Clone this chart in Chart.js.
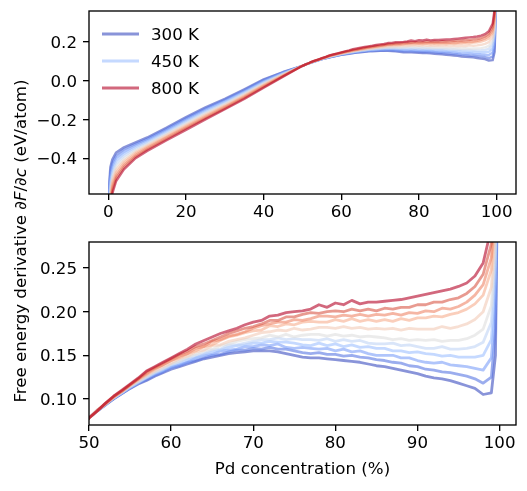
<!DOCTYPE html>
<html><head><meta charset="utf-8">
<script src="https://cdn.jsdelivr.net/npm/chart.js@4.4.0/dist/chart.umd.min.js"></script>
<style>
html,body{margin:0;padding:0;background:#fff;}
body{width:527px;height:491px;position:relative;overflow:hidden;font-family:'DejaVu Sans',sans-serif;}
#c1{position:absolute;left:0;top:0;}
#c2{position:absolute;left:0;top:230px;}
#ylab{position:absolute;left:-179px;top:231px;width:400px;height:20px;line-height:20px;text-align:center;font-size:16.67px;transform:rotate(-90deg);transform-origin:50% 50%;white-space:nowrap;color:#000;}
</style></head><body>
<canvas id="c1" width="527" height="230"></canvas>
<canvas id="c2" width="527" height="261"></canvas>
<div id="ylab">Free energy derivative <i>∂F</i>/<i>∂c</i> (eV/atom)</div>
<script>
// ---------------- data ----------------
const concentration = [0, 0.25, 0.5, 1, 2, 4, 7, 10, 15, 20, 25, 30, 35, 40, 45,
  50, 51, 52, 53, 54, 55, 56, 57, 58, 59,
  60, 61, 62, 63, 64, 65, 66, 67, 68, 69,
  70, 71, 72, 73, 74, 75, 76, 77, 78, 79,
  80, 81, 82, 83, 84, 85, 86, 87, 88, 89,
  90, 91, 92, 93, 94, 95, 96, 97, 98, 99,
  99.5, 100];

const temperatures = [300, 350, 400, 450, 500, 550, 600, 650, 700, 750, 800];
const legendTemperatures = [300, 450, 800];

const dFdc_300K = [-1.0, -0.52, -0.445, -0.405, -0.368, -0.342, -0.316, -0.291, -0.240, -0.186, -0.136, -0.092, -0.043, 0.008, 0.046,
  0.078, 0.086, 0.093, 0.100, 0.106, 0.112, 0.117, 0.121, 0.126, 0.130,
  0.134, 0.137, 0.140, 0.143, 0.146, 0.148, 0.150, 0.152, 0.153, 0.154,
  0.155, 0.155, 0.155, 0.154, 0.152, 0.150, 0.148, 0.147, 0.147, 0.146,
  0.145, 0.144, 0.143, 0.142, 0.140, 0.138, 0.137, 0.135, 0.133, 0.131,
  0.129, 0.126, 0.124, 0.123, 0.121, 0.118, 0.115, 0.112, 0.105, 0.107,
  0.15, 0.55];
const dFdc_350K = [-1.0, -0.548, -0.470, -0.423, -0.383, -0.353, -0.324, -0.298, -0.247, -0.193, -0.142, -0.097, -0.048, 0.004, 0.044,
  0.078, 0.086, 0.093, 0.100, 0.106, 0.112, 0.118, 0.122, 0.127, 0.131,
  0.136, 0.138, 0.142, 0.144, 0.147, 0.150, 0.151, 0.154, 0.156, 0.156,
  0.158, 0.157, 0.159, 0.157, 0.157, 0.155, 0.153, 0.152, 0.153, 0.151,
  0.151, 0.149, 0.150, 0.148, 0.147, 0.145, 0.144, 0.142, 0.141, 0.138,
  0.137, 0.134, 0.133, 0.131, 0.130, 0.128, 0.126, 0.123, 0.118, 0.125,
  0.18, 0.56];
const dFdc_400K = [-1.0, -0.576, -0.494, -0.440, -0.397, -0.365, -0.332, -0.305, -0.253, -0.199, -0.148, -0.103, -0.053, -0.001, 0.041,
  0.078, 0.087, 0.093, 0.101, 0.107, 0.113, 0.118, 0.124, 0.128, 0.132,
  0.136, 0.139, 0.142, 0.147, 0.150, 0.151, 0.155, 0.156, 0.157, 0.160,
  0.160, 0.162, 0.161, 0.163, 0.159, 0.158, 0.159, 0.158, 0.157, 0.158,
  0.155, 0.157, 0.154, 0.155, 0.152, 0.150, 0.150, 0.150, 0.147, 0.147,
  0.144, 0.142, 0.141, 0.142, 0.139, 0.138, 0.137, 0.135, 0.133, 0.147,
  0.21, 0.57];
const dFdc_450K = [-1.0, -0.604, -0.519, -0.458, -0.412, -0.376, -0.341, -0.312, -0.260, -0.206, -0.155, -0.108, -0.058, -0.005, 0.039,
  0.078, 0.086, 0.094, 0.101, 0.107, 0.113, 0.119, 0.124, 0.129, 0.133,
  0.138, 0.141, 0.145, 0.147, 0.151, 0.154, 0.156, 0.159, 0.161, 0.162,
  0.164, 0.164, 0.166, 0.165, 0.165, 0.164, 0.162, 0.161, 0.164, 0.161,
  0.163, 0.160, 0.162, 0.159, 0.160, 0.158, 0.158, 0.155, 0.155, 0.153,
  0.154, 0.152, 0.151, 0.149, 0.150, 0.148, 0.148, 0.148, 0.150, 0.168,
  0.24, 0.58];
const dFdc_500K = [-1.0, -0.632, -0.543, -0.475, -0.427, -0.387, -0.349, -0.319, -0.266, -0.212, -0.161, -0.114, -0.063, -0.009, 0.036,
  0.078, 0.086, 0.094, 0.101, 0.107, 0.114, 0.119, 0.125, 0.130, 0.134,
  0.139, 0.143, 0.146, 0.150, 0.152, 0.156, 0.157, 0.162, 0.162, 0.164,
  0.166, 0.168, 0.168, 0.170, 0.168, 0.169, 0.168, 0.168, 0.167, 0.169,
  0.166, 0.168, 0.166, 0.167, 0.164, 0.163, 0.163, 0.164, 0.161, 0.162,
  0.160, 0.158, 0.158, 0.160, 0.157, 0.157, 0.158, 0.160, 0.165, 0.188,
  0.26, 0.59];
const dFdc_550K = [-1.0, -0.660, -0.568, -0.493, -0.442, -0.399, -0.357, -0.326, -0.273, -0.219, -0.167, -0.119, -0.068, -0.014, 0.034,
  0.078, 0.087, 0.094, 0.101, 0.108, 0.114, 0.120, 0.125, 0.131, 0.135,
  0.140, 0.143, 0.148, 0.151, 0.155, 0.157, 0.161, 0.163, 0.166, 0.168,
  0.169, 0.170, 0.173, 0.171, 0.174, 0.171, 0.173, 0.174, 0.174, 0.172,
  0.174, 0.172, 0.173, 0.171, 0.172, 0.171, 0.170, 0.168, 0.169, 0.167,
  0.168, 0.167, 0.168, 0.166, 0.167, 0.167, 0.169, 0.173, 0.180, 0.207,
  0.28, 0.60];
const dFdc_600K = [-1.0, -0.688, -0.592, -0.510, -0.456, -0.410, -0.365, -0.332, -0.279, -0.226, -0.173, -0.124, -0.073, -0.018, 0.032,
  0.078, 0.086, 0.094, 0.102, 0.108, 0.115, 0.121, 0.127, 0.132, 0.137,
  0.141, 0.146, 0.149, 0.154, 0.156, 0.161, 0.162, 0.166, 0.168, 0.170,
  0.173, 0.176, 0.177, 0.179, 0.178, 0.181, 0.179, 0.180, 0.182, 0.182,
  0.181, 0.183, 0.181, 0.182, 0.180, 0.181, 0.180, 0.181, 0.179, 0.181,
  0.180, 0.180, 0.180, 0.183, 0.181, 0.183, 0.186, 0.191, 0.200, 0.228,
  0.30, 0.61];
const dFdc_650K = [-1.0, -0.716, -0.617, -0.528, -0.471, -0.421, -0.373, -0.339, -0.286, -0.232, -0.179, -0.130, -0.078, -0.022, 0.029,
  0.078, 0.086, 0.095, 0.102, 0.109, 0.116, 0.122, 0.128, 0.134, 0.139,
  0.144, 0.147, 0.152, 0.155, 0.160, 0.162, 0.167, 0.171, 0.173, 0.176,
  0.178, 0.179, 0.184, 0.183, 0.186, 0.185, 0.188, 0.189, 0.188, 0.188,
  0.191, 0.189, 0.192, 0.189, 0.191, 0.189, 0.191, 0.189, 0.192, 0.190,
  0.193, 0.193, 0.195, 0.194, 0.197, 0.199, 0.203, 0.209, 0.219, 0.248,
  0.32, 0.62];
const dFdc_700K = [-1.0, -0.744, -0.641, -0.545, -0.486, -0.432, -0.382, -0.346, -0.292, -0.239, -0.186, -0.135, -0.083, -0.026, 0.027,
  0.078, 0.087, 0.094, 0.102, 0.109, 0.116, 0.123, 0.129, 0.135, 0.139,
  0.144, 0.149, 0.152, 0.158, 0.160, 0.166, 0.168, 0.172, 0.174, 0.177,
  0.181, 0.184, 0.186, 0.188, 0.188, 0.191, 0.190, 0.192, 0.195, 0.195,
  0.194, 0.196, 0.195, 0.197, 0.195, 0.197, 0.196, 0.198, 0.196, 0.199,
  0.198, 0.201, 0.200, 0.204, 0.203, 0.206, 0.211, 0.219, 0.231, 0.262,
  0.335, 0.63];
const dFdc_750K = [-1.0, -0.772, -0.666, -0.563, -0.500, -0.444, -0.390, -0.353, -0.299, -0.245, -0.192, -0.141, -0.088, -0.031, 0.024,
  0.078, 0.086, 0.095, 0.103, 0.109, 0.116, 0.123, 0.131, 0.136, 0.141,
  0.146, 0.151, 0.155, 0.160, 0.163, 0.167, 0.171, 0.175, 0.178, 0.181,
  0.183, 0.186, 0.190, 0.190, 0.194, 0.194, 0.197, 0.199, 0.198, 0.200,
  0.201, 0.200, 0.203, 0.201, 0.203, 0.201, 0.204, 0.203, 0.205, 0.205,
  0.208, 0.208, 0.211, 0.211, 0.214, 0.216, 0.221, 0.229, 0.243, 0.278,
  0.35, 0.64];
const dFdc_800K = [-1.0, -0.80, -0.69, -0.58, -0.515, -0.455, -0.398, -0.360, -0.305, -0.252, -0.198, -0.146, -0.093, -0.035, 0.022,
  0.078, 0.086, 0.095, 0.103, 0.110, 0.117, 0.124, 0.132, 0.137, 0.142,
  0.147, 0.152, 0.157, 0.163, 0.167, 0.171, 0.175, 0.178, 0.181, 0.185,
  0.188, 0.190, 0.195, 0.196, 0.199, 0.200, 0.201, 0.203, 0.208, 0.205,
  0.210, 0.208, 0.213, 0.209, 0.211, 0.211, 0.212, 0.213, 0.214, 0.216,
  0.218, 0.220, 0.222, 0.224, 0.226, 0.229, 0.233, 0.241, 0.256, 0.296,
  0.37, 0.65];

const topXTicks = [0, 20, 40, 60, 80, 100];
const topYTicks = [-0.4, -0.2, 0.0, 0.2];
const bottomXTicks = [50, 60, 70, 80, 90, 100];
const bottomYTicks = [0.10, 0.15, 0.20, 0.25];

// ---------------- styles ----------------
const series = [dFdc_300K, dFdc_350K, dFdc_400K, dFdc_450K, dFdc_500K, dFdc_550K,
                dFdc_600K, dFdc_650K, dFdc_700K, dFdc_750K, dFdc_800K];
const lineColors = ['rgba(59,76,192,0.6)', 'rgba(89,119,227,0.6)', 'rgba(124,159,249,0.6)',
  'rgba(159,191,255,0.6)', 'rgba(192,212,245,0.6)', 'rgba(221,221,221,0.6)',
  'rgba(242,202,182,0.6)', 'rgba(247,173,142,0.6)', 'rgba(238,133,104,0.6)',
  'rgba(216,86,70,0.6)', 'rgba(180,4,38,0.6)'];

Chart.defaults.font.family = "'DejaVu Sans', sans-serif";
Chart.defaults.font.size = 16.67;
Chart.defaults.color = '#000';

function makeDatasets(width) {
  return temperatures.map((T, i) => ({
    label: T + ' K',
    data: concentration.map((x, j) => ({x: x, y: series[i][j]})),
    borderColor: lineColors[i],
    backgroundColor: lineColors[i],
    borderWidth: width,
    pointRadius: 0,
    tension: 0,
    fill: false,
    clip: 0,
    order: temperatures.length - i,
    borderJoinStyle: 'round'
  }));
}

const framePlugin = {
  id: 'frame',
  afterDraw(chart) {
    const a = chart.chartArea, ctx = chart.ctx;
    ctx.save();
    ctx.strokeStyle = '#000';
    ctx.lineWidth = 1.33;
    ctx.strokeRect(a.left, a.top, a.right - a.left, a.bottom - a.top);
    ctx.restore();
  }
};

const legendPlugin = {
  id: 'inlineLegend',
  afterDatasetsDraw(chart) {
    const a = chart.chartArea, ctx = chart.ctx;
    legendTemperatures.forEach((T, k) => {
      const i = temperatures.indexOf(T);
      const y = a.top + 23 + k * 27;
      ctx.save();
      ctx.strokeStyle = lineColors[i];
      ctx.lineWidth = 2.8;
      ctx.beginPath();
      ctx.moveTo(a.left + 13, y);
      ctx.lineTo(a.left + 50, y);
      ctx.stroke();
      ctx.fillStyle = '#000';
      ctx.font = "16.67px 'DejaVu Sans', sans-serif";
      ctx.textBaseline = 'middle';
      ctx.textAlign = 'left';
      ctx.fillText(T + ' K', a.left + 62, y + 1.5);
      ctx.restore();
    });
  }
};

const minus = s => s.replace('-', '\u2212');

function axisCommon() {
  return {
    type: 'linear',
    bounds: 'data',
    border: {display: false},
    grid: {display: true, drawOnChartArea: false, drawTicks: true, tickLength: 6, color: '#000', lineWidth: 1.33},
  };
}

function makeOptions(cfg) {
  return {
    responsive: false,
    animation: false,
    devicePixelRatio: 1,
    layout: {padding: {left: 0, right: 11, top: cfg.padTop, bottom: 0}},
    plugins: {legend: {display: false}, tooltip: {enabled: false}, title: {display: false}},
    scales: {
      x: Object.assign(axisCommon(), {
        position: 'bottom',
        min: cfg.xMin, max: cfg.xMax,
        afterBuildTicks: s => { s.ticks = cfg.xTicks.map(v => ({value: v})); },
        afterFit: s => { s.height = cfg.xHeight; s.paddingLeft = 0; s.paddingRight = 0; },
        ticks: {autoSkip: false, maxRotation: 0, minRotation: 0, padding: 3, color: '#000',
                callback: v => minus(String(v))},
        title: cfg.xTitle ? {display: true, text: cfg.xTitle, color: '#000', padding: {top: 0, bottom: 11}} : {display: false}
      }),
      y: Object.assign(axisCommon(), {
        position: 'left',
        min: cfg.yMin, max: cfg.yMax,
        afterBuildTicks: s => { s.ticks = cfg.yTicks.map(v => ({value: v})); },
        afterFit: s => { s.width = 89; s.paddingTop = 0; s.paddingBottom = 0; },
        ticks: {autoSkip: false, padding: 6, color: '#000', labelOffset: 1.5,
                callback: v => minus(Number(v).toFixed(cfg.yDecimals))}
      })
    }
  };
}

new Chart(document.getElementById('c1'), {
  type: 'line',
  data: {datasets: makeDatasets(2.4)},
  options: makeOptions({padTop: 11, xMin: -5, xMax: 105, yMin: -0.582, yMax: 0.360,
    xTicks: topXTicks, yTicks: topYTicks, yDecimals: 1, xHeight: 230 - 194}),
  plugins: [framePlugin, legendPlugin]
});

new Chart(document.getElementById('c2'), {
  type: 'line',
  data: {datasets: makeDatasets(2.8)},
  options: makeOptions({padTop: 12, xMin: 50, xMax: 102, yMin: 0.07, yMax: 0.28,
    xTicks: bottomXTicks, yTicks: bottomYTicks, yDecimals: 2, xHeight: 261 - 195,
    xTitle: 'Pd concentration (%)'}),
  plugins: [framePlugin]
});
</script>
</body></html>
